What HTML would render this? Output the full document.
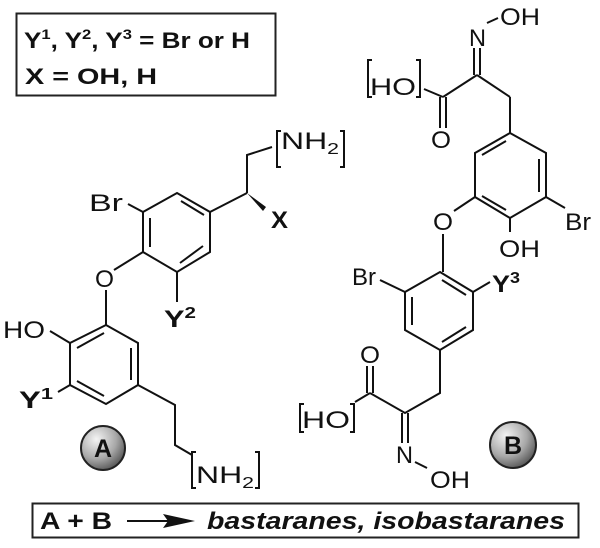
<!DOCTYPE html>
<html><head><meta charset="utf-8"><style>
html,body{margin:0;padding:0;background:#fff;}
svg{display:block;}
text{font-family:"Liberation Sans",Arial,sans-serif;fill:#111;}
</style></head><body>
<svg width="600" height="548" viewBox="0 0 600 548" xmlns="http://www.w3.org/2000/svg">
<defs>
<radialGradient id="g" cx="0.35" cy="0.3" r="0.75">
<stop offset="0" stop-color="#f4f4f4"/><stop offset="0.6" stop-color="#a8a8a8"/><stop offset="1" stop-color="#555"/>
</radialGradient>
</defs>
<rect x="16.5" y="13.5" width="259" height="82" fill="#fff" stroke="#222" stroke-width="2"/>
<text x="24" y="48" font-size="22" font-weight="bold" textLength="226" lengthAdjust="spacingAndGlyphs">Y<tspan font-size="14" dy="-9">1</tspan><tspan dy="9">, Y</tspan><tspan font-size="14" dy="-9">2</tspan><tspan dy="9">, Y</tspan><tspan font-size="14" dy="-9">3</tspan><tspan dy="9">  =  Br or H</tspan></text>
<text x="25" y="84" font-size="22" font-weight="bold" textLength="132" lengthAdjust="spacingAndGlyphs">X  =  OH, H</text>

<g stroke="#111" stroke-width="2" fill="none">
<polygon points="177,193 210,212 210,252 177,272 143,252 143,212"/>
<line x1="181" y1="201" x2="204" y2="215"/>
<line x1="203" y1="246" x2="180" y2="263"/>
<line x1="150" y1="218" x2="150" y2="247"/>
<line x1="143" y1="212" x2="128" y2="204"/>
<line x1="210" y1="212" x2="247" y2="193"/>
<polyline points="247,193 247,155 272,147"/>
<line x1="143" y1="252" x2="114" y2="270"/>
<line x1="177" y1="272" x2="177" y2="302"/>
<line x1="106" y1="290" x2="106" y2="325"/>
<polygon points="106,325 138,343 138,385 106,404 70,385 70,343"/>
<line x1="104" y1="333" x2="77" y2="348"/>
<line x1="131" y1="348" x2="131" y2="380"/>
<line x1="77" y1="381" x2="104" y2="396"/>
<line x1="70" y1="343" x2="50" y2="331"/>
<line x1="70" y1="385" x2="58" y2="392"/>
<polyline points="138,385 175,405 175,445 192,455"/>
<line x1="474" y1="48" x2="474" y2="75"/><line x1="480" y1="48" x2="480" y2="75"/>
<line x1="477" y1="75" x2="443" y2="97"/>
<line x1="477" y1="75" x2="510" y2="97"/>
<line x1="443" y1="97" x2="424" y2="89"/>
<line x1="440" y1="97" x2="440" y2="128"/><line x1="446" y1="97" x2="446" y2="128"/>
<line x1="510" y1="97" x2="510" y2="133"/>
<polygon points="510,133 546,153 546,197 510,218 475,197 475,153"/>
<line x1="539" y1="159" x2="539" y2="192"/>
<line x1="506" y1="141" x2="482" y2="155"/>
<line x1="506" y1="210" x2="482" y2="196"/>
<line x1="546" y1="197" x2="565" y2="208"/>
<line x1="510" y1="218" x2="510" y2="232"/>
<line x1="475" y1="197" x2="454" y2="211"/>
<line x1="443" y1="234" x2="443" y2="272"/>
<polygon points="440,272 473,292 473,330 440,350 405,330 405,292"/>
<line x1="442" y1="280" x2="466" y2="295"/>
<line x1="412" y1="297" x2="412" y2="325"/>
<line x1="442" y1="342" x2="466" y2="327"/>
<line x1="405" y1="292" x2="380" y2="280"/>
<line x1="473" y1="292" x2="490" y2="282"/>
<polyline points="440,350 440,393 405,413 370,393"/>
<line x1="367" y1="393" x2="367" y2="366"/><line x1="373" y1="393" x2="373" y2="366"/>
<line x1="370" y1="393" x2="355" y2="402"/>
<line x1="402" y1="413" x2="402" y2="443"/><line x1="408" y1="413" x2="408" y2="443"/>
<line x1="415" y1="462" x2="427" y2="468"/>
<line x1="487" y1="23" x2="498" y2="18"/>
<polyline points="281,131 277,131 277,167 281,167"/>
<polyline points="340,131 344,131 344,167 340,167"/>
<polyline points="196,452 192,452 192,488 196,488"/>
<polyline points="255,452 259,452 259,488 255,488"/>
<polyline points="372,60 368,60 368,97 372,97"/>
<polyline points="416,60 420,60 420,97 416,97"/>
<polyline points="304,404 300,404 300,432 304,432"/>
<polyline points="350,404 354,404 354,432 350,432"/>
</g>
<polygon points="247,193 266,207 263,211" fill="#111"/>

<g font-size="24">
<text x="89" y="211" textLength="34" lengthAdjust="spacingAndGlyphs">Br</text>
<text x="271" y="228" font-weight="bold" textLength="17" lengthAdjust="spacingAndGlyphs">X</text>
<text x="281" y="149" textLength="58" lengthAdjust="spacingAndGlyphs">NH<tspan font-size="16" dy="5">2</tspan></text>
<text x="95" y="287" textLength="19" lengthAdjust="spacingAndGlyphs">O</text>
<text x="3" y="338" textLength="42" lengthAdjust="spacingAndGlyphs">HO</text>
<text x="19" y="408" font-weight="bold" textLength="34" lengthAdjust="spacingAndGlyphs">Y<tspan font-size="16" dy="-9">1</tspan></text>
<text x="164" y="327" font-weight="bold" textLength="32" lengthAdjust="spacingAndGlyphs">Y<tspan font-size="16" dy="-9">2</tspan></text>
<text x="196" y="483" textLength="58" lengthAdjust="spacingAndGlyphs">NH<tspan font-size="16" dy="5">2</tspan></text>
<text x="469" y="46" textLength="17" lengthAdjust="spacingAndGlyphs">N</text>
<text x="500" y="25" textLength="40" lengthAdjust="spacingAndGlyphs">OH</text>
<text x="370" y="95" textLength="46" lengthAdjust="spacingAndGlyphs">HO</text>
<text x="431" y="148" textLength="20" lengthAdjust="spacingAndGlyphs">O</text>
<text x="433" y="230" textLength="20" lengthAdjust="spacingAndGlyphs">O</text>
<text x="499" y="257" textLength="41" lengthAdjust="spacingAndGlyphs">OH</text>
<text x="565" y="230" textLength="26" lengthAdjust="spacingAndGlyphs">Br</text>
<text x="352" y="285" textLength="24" lengthAdjust="spacingAndGlyphs">Br</text>
<text x="492" y="292" font-weight="bold" textLength="28" lengthAdjust="spacingAndGlyphs">Y<tspan font-size="16" dy="-9">3</tspan></text>
<text x="360" y="363" textLength="20" lengthAdjust="spacingAndGlyphs">O</text>
<text x="302" y="428" textLength="48" lengthAdjust="spacingAndGlyphs">HO</text>
<text x="396" y="463" textLength="17" lengthAdjust="spacingAndGlyphs">N</text>
<text x="430" y="488" textLength="40" lengthAdjust="spacingAndGlyphs">OH</text>
</g>

<circle cx="103" cy="448" r="22" fill="url(#g)" stroke="#222" stroke-width="2"/>
<text x="103" y="457" font-size="25" font-weight="bold" text-anchor="middle">A</text>
<circle cx="513" cy="445" r="23" fill="url(#g)" stroke="#222" stroke-width="2"/>
<text x="513" y="454" font-size="25" font-weight="bold" text-anchor="middle">B</text>

<rect x="32.5" y="503.5" width="546" height="34" fill="#fff" stroke="#222" stroke-width="2"/>
<text x="40" y="529" font-size="24" font-weight="bold" textLength="72" lengthAdjust="spacingAndGlyphs">A + B</text>
<line x1="127" y1="521" x2="175" y2="521" stroke="#111" stroke-width="2"/>
<polygon points="163,514 195,521 163,528 168,521" fill="#111"/>
<text x="207" y="529" font-size="24" font-weight="bold" font-style="italic" textLength="358" lengthAdjust="spacingAndGlyphs">bastaranes, isobastaranes</text>
</svg>
</body></html>
